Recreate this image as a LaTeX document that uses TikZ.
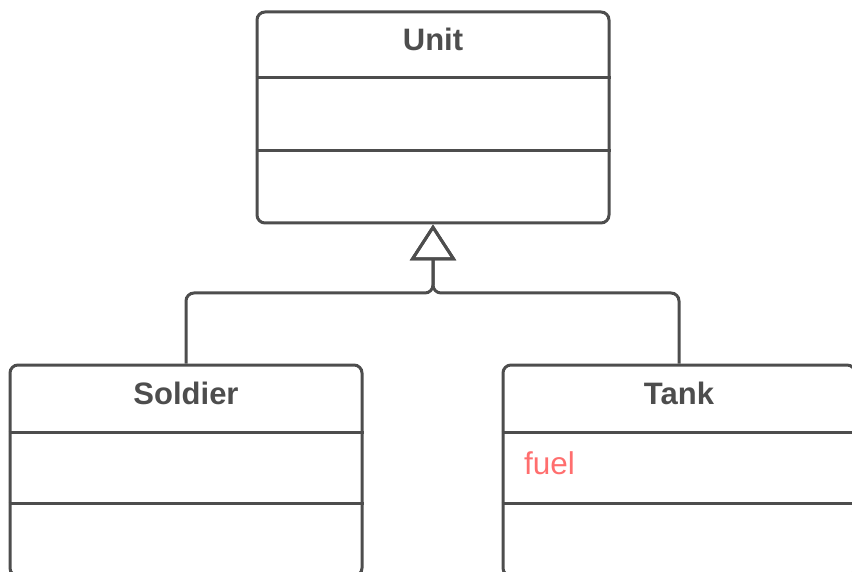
\documentclass[tikz,border=0pt]{standalone}
\usepackage{fontspec}
\setmainfont{Liberation Sans}
\usetikzlibrary{arrows.meta}
\definecolor{umlgray}{HTML}{4D4D4D}
\definecolor{umlred}{HTML}{FF6E6E}
\tikzset{
  classbox/.style={draw=umlgray, line width=3pt, rounded corners=8pt, minimum width=352pt, minimum height=211pt, inner sep=0pt},
  divider/.style={draw=umlgray, line width=3pt},
  title/.style={font=\bfseries\fontsize{31}{37}\selectfont, text=umlgray, anchor=base, inner sep=0pt},
  attr/.style={font=\fontsize{31.5}{37}\selectfont, text=umlred, anchor=base west, inner sep=0pt},
  inherit/.style={draw=umlgray, line width=3pt, rounded corners=8pt, -{Triangle[open, length=36pt, width=46pt, line width=3pt]}}
}
\begin{document}
\begin{tikzpicture}[x=1pt, y=-1pt]
\useasboundingbox (0,0) rectangle (852,572);
\node[classbox] (unit) at (433,117.5) {};
\node[classbox] (soldier) at (186,470.5) {};
\node[classbox] (tank) at (679,470.5) {};
\draw[divider] (unit.west |- 0,78) -- (unit.east |- 0,78);
\draw[divider] (unit.west |- 0,151) -- (unit.east |- 0,151);
\draw[divider] (soldier.west |- 0,432) -- (soldier.east |- 0,432);
\draw[divider] (soldier.west |- 0,503) -- (soldier.east |- 0,503);
\draw[divider] (tank.west |- 0,432) -- (tank.east |- 0,432);
\draw[divider] (tank.west |- 0,503) -- (tank.east |- 0,503);
\node[title] (unitT) at (433,51) {Unit};
\node[title] (soldierT) at (186,404) {Soldier};
\node[title] (tankT) at (679,404) {Tank};
\node[attr] (fuel) at (524,474) {fuel};
\coordinate (j) at (433,293);
\draw[inherit] (soldier.north) |- (j) -- (unit.south);
\draw[inherit] (tank.north) |- (j) -- (unit.south);
\end{tikzpicture}
\end{document}
